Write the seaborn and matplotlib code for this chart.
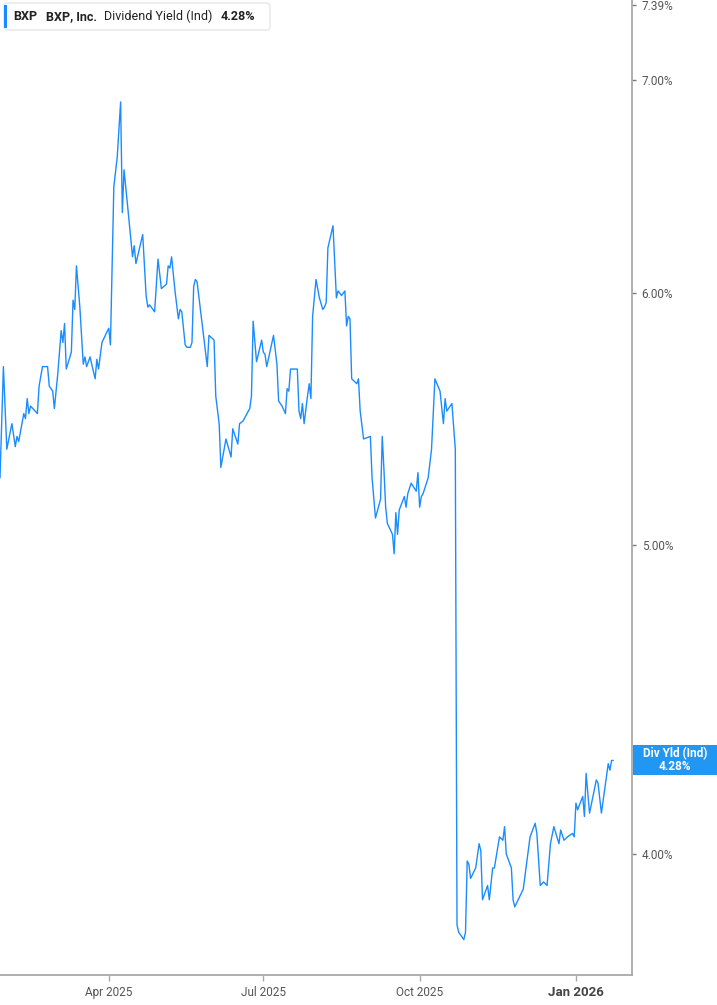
import numpy as np
import pandas as pd
import matplotlib
matplotlib.use('Agg')
import matplotlib.pyplot as plt
import matplotlib.dates as mdates
from matplotlib.patches import FancyBboxPatch, Rectangle
import seaborn as sns

sns.set_style('white')
plt.rcParams['font.family'] = ['Roboto', 'DejaVu Sans']

# BXP dividend yield (Ind), %
dates = [
    '2025-01-27', '2025-01-29', '2025-01-31', '2025-02-03', '2025-02-05', '2025-02-06', '2025-02-07',
    '2025-02-10', '2025-02-11', '2025-02-12', '2025-02-13', '2025-02-14', '2025-02-18', '2025-02-19',
    '2025-02-21', '2025-02-24', '2025-02-25', '2025-02-27', '2025-02-28', '2025-03-02', '2025-03-04',
    '2025-03-05', '2025-03-06', '2025-03-07', '2025-03-10', '2025-03-11', '2025-03-12', '2025-03-13',
    '2025-03-15', '2025-03-17', '2025-03-18', '2025-03-19', '2025-03-21', '2025-03-24', '2025-03-25',
    '2025-03-26', '2025-03-28', '2025-04-01', '2025-04-02', '2025-04-04', '2025-04-06', '2025-04-08',
    '2025-04-09', '2025-04-10', '2025-04-12', '2025-04-15', '2025-04-16', '2025-04-17', '2025-04-21',
    '2025-04-23', '2025-04-24', '2025-04-25', '2025-04-28', '2025-04-30', '2025-05-02', '2025-05-05',
    '2025-05-06', '2025-05-07', '2025-05-08', '2025-05-10', '2025-05-12', '2025-05-13', '2025-05-14',
    '2025-05-16', '2025-05-17', '2025-05-19', '2025-05-20', '2025-05-21', '2025-05-22', '2025-05-23',
    '2025-05-29', '2025-05-30', '2025-06-02', '2025-06-03', '2025-06-05', '2025-06-06', '2025-06-09',
    '2025-06-12', '2025-06-13', '2025-06-16', '2025-06-17', '2025-06-19', '2025-06-23', '2025-06-24',
    '2025-06-25', '2025-06-27', '2025-06-30', '2025-07-01', '2025-07-02', '2025-07-03', '2025-07-07',
    '2025-07-09', '2025-07-10', '2025-07-12', '2025-07-14', '2025-07-15', '2025-07-16', '2025-07-17',
    '2025-07-18', '2025-07-21', '2025-07-22', '2025-07-23', '2025-07-24', '2025-07-25', '2025-07-27',
    '2025-07-28', '2025-07-29', '2025-07-30', '2025-08-01', '2025-08-03', '2025-08-05', '2025-08-06',
    '2025-08-07', '2025-08-08', '2025-08-11', '2025-08-13', '2025-08-14', '2025-08-16', '2025-08-18',
    '2025-08-19', '2025-08-20', '2025-08-21', '2025-08-22', '2025-08-25', '2025-08-26', '2025-08-27',
    '2025-08-29', '2025-09-02', '2025-09-03', '2025-09-05', '2025-09-08', '2025-09-09', '2025-09-10',
    '2025-09-11', '2025-09-12', '2025-09-15', '2025-09-16', '2025-09-17', '2025-09-18', '2025-09-19',
    '2025-09-22', '2025-09-23', '2025-09-24', '2025-09-26', '2025-09-29', '2025-09-30', '2025-10-01',
    '2025-10-02', '2025-10-03', '2025-10-06', '2025-10-08', '2025-10-10', '2025-10-13', '2025-10-15',
    '2025-10-16', '2025-10-17', '2025-10-20', '2025-10-22', '2025-10-23', '2025-10-24', '2025-10-27',
    '2025-10-28', '2025-10-29', '2025-10-30', '2025-10-31', '2025-11-03', '2025-11-05', '2025-11-06',
    '2025-11-07', '2025-11-10', '2025-11-11', '2025-11-13', '2025-11-14', '2025-11-17', '2025-11-19',
    '2025-11-20', '2025-11-21', '2025-11-24', '2025-11-25', '2025-11-26', '2025-11-28', '2025-12-01',
    '2025-12-05', '2025-12-08', '2025-12-09', '2025-12-11', '2025-12-13', '2025-12-15', '2025-12-17',
    '2025-12-19', '2025-12-22', '2025-12-23', '2025-12-25', '2025-12-27', '2025-12-30', '2025-12-31',
    '2026-01-01', '2026-01-02', '2026-01-05', '2026-01-06', '2026-01-07', '2026-01-09', '2026-01-13',
    '2026-01-14', '2026-01-16', '2026-01-20', '2026-01-21', '2026-01-22', '2026-01-23',
]
div_yield = [
    5.25, 5.69, 5.36, 5.46, 5.37, 5.41, 5.39,
    5.50, 5.48, 5.56, 5.50, 5.53, 5.50, 5.61,
    5.69, 5.69, 5.61, 5.59, 5.52, 5.66, 5.84,
    5.79, 5.87, 5.68, 5.75, 5.97, 5.93, 6.12,
    5.94, 5.70, 5.73, 5.69, 5.73, 5.64, 5.72,
    5.68, 5.79, 5.85, 5.78, 6.48, 6.62, 6.89,
    6.36, 6.56, 6.40, 6.16, 6.21, 6.13, 6.26,
    5.99, 5.94, 5.95, 5.92, 6.15, 6.02, 6.04,
    6.12, 6.11, 6.16, 6.01, 5.89, 5.93, 5.92,
    5.78, 5.77, 5.77, 5.79, 6.03, 6.06, 6.05,
    5.69, 5.82, 5.80, 5.57, 5.46, 5.29, 5.40,
    5.33, 5.44, 5.38, 5.46, 5.47, 5.52, 5.57,
    5.88, 5.71, 5.80, 5.75, 5.74, 5.69, 5.82,
    5.70, 5.55, 5.53, 5.50, 5.60, 5.59, 5.68,
    5.68, 5.68, 5.51, 5.48, 5.54, 5.46, 5.57,
    5.62, 5.56, 5.90, 6.06, 5.98, 5.93, 5.94,
    5.96, 6.20, 6.30, 5.98, 6.01, 5.99, 6.01,
    5.86, 5.90, 5.89, 5.64, 5.62, 5.64, 5.51,
    5.40, 5.41, 5.25, 5.10, 5.17, 5.41, 5.28,
    5.14, 5.08, 5.04, 4.97, 5.12, 5.04, 5.13,
    5.18, 5.14, 5.19, 5.23, 5.20, 5.27, 5.14,
    5.18, 5.19, 5.25, 5.36, 5.64, 5.59, 5.46,
    5.56, 5.51, 5.54, 5.36, 3.80, 3.78, 3.76,
    3.78, 3.98, 3.97, 3.93, 3.96, 4.03, 4.01,
    3.87, 3.91, 3.87, 3.96, 3.96, 4.05, 4.04,
    4.08, 4.00, 3.96, 3.87, 3.85, 3.87, 3.90,
    4.05, 4.09, 4.06, 3.91, 3.92, 3.91, 4.03,
    4.08, 4.03, 4.07, 4.04, 4.05, 4.06, 4.05,
    4.15, 4.13, 4.17, 4.11, 4.24, 4.12, 4.22,
    4.21, 4.12, 4.27, 4.25, 4.28, 4.28,
]
y_ticks = [4.0, 5.0, 6.0, 7.0, 7.39]
x_ticks = ['2025-04-01', '2025-07-01', '2025-10-01', '2026-01-01']
x_tick_labels = ['Apr 2025', 'Jul 2025', 'Oct 2025', 'Jan 2026']
last_value = div_yield[-1]

df = pd.DataFrame({'date': pd.to_datetime(dates), 'yield': div_yield})

W, H = 717, 1005
fig = plt.figure(figsize=(W / 100, H / 100), dpi=100)
ax = fig.add_axes([0, 1 - 975 / H, 632 / W, 975 / H])

line_color = '#1a8cff'
sns.lineplot(data=df, x='date', y='yield', ax=ax, color=line_color, linewidth=1.0)

ax.set_yscale('log')
ax.set_ylim(3.665, 7.417)
ax.set_xlim(pd.Timestamp('2025-01-27'), pd.Timestamp('2026-02-03'))

ax.yaxis.set_label_position('right')
ax.yaxis.tick_right()
ax.yaxis.set_minor_locator(matplotlib.ticker.NullLocator())
ax.set_yticks(y_ticks)
ax.set_yticklabels([f'{v:.2f}%' for v in y_ticks])
ax.set_xticks(pd.to_datetime(x_ticks))
ax.set_xticklabels(x_tick_labels)
ax.set_xlabel('')
ax.set_ylabel('')

grey = '#a9a9a9'
for side in ['left', 'top']:
    ax.spines[side].set_visible(False)
for side in ['right', 'bottom']:
    ax.spines[side].set_visible(True)
    ax.spines[side].set_color(grey)
    ax.spines[side].set_linewidth(1.3)

ax.tick_params(axis='y', which='major', direction='out', length=3, width=1, color='#777777',
               labelsize=8.5, labelcolor='#555555', pad=4, right=True, left=False)
ax.tick_params(axis='x', which='major', direction='out', length=4, width=1, color=grey,
               labelsize=8.5, labelcolor='#555555', pad=4, bottom=True)
xlabels = ax.get_xticklabels()
xlabels[-1].set_fontweight('bold')
xlabels[-1].set_color('#444444')
xlabels[-1].set_fontsize(9.5)

# current value tag on the right axis
tag_h = 30 / H
y_fig = fig.transFigure.inverted().transform(ax.transData.transform((0, last_value)))[1]
fig.patches.append(Rectangle((633 / W, y_fig - tag_h / 2), (W - 633) / W, tag_h,
                             transform=fig.transFigure, facecolor='#2196f3', edgecolor='none'))
fig.text(675 / W, y_fig + 0.0065, 'Div Yld (Ind)', color='white', fontsize=8.5,
         fontweight='bold', ha='center', va='center')
fig.text(675 / W, y_fig - 0.0065, f'{last_value:.2f}%', color='white', fontsize=8.5,
         fontweight='bold', ha='center', va='center')

# legend box at top left
fig.patches.append(FancyBboxPatch((4 / W, 1 - 30 / H), 266 / W, 27 / H,
                                  boxstyle='round,pad=0,rounding_size=0.004',
                                  transform=fig.transFigure, facecolor='white',
                                  edgecolor='#e6e6e6', linewidth=1))
fig.patches.append(Rectangle((4 / W, 1 - 28 / H), 3 / W, 23 / H, transform=fig.transFigure,
                             facecolor=line_color, edgecolor='none'))
ty = 1 - 16.5 / H
fs = 9
fig.text(13 / W, ty, 'BXP', fontsize=fs, fontweight='bold', color='#222222', va='center')
fig.text(46 / W, ty, 'BXP, Inc.', fontsize=fs, fontweight='bold', color='#222222', va='center')
fig.text(104 / W, ty, 'Dividend Yield (Ind)', fontsize=fs, color='#222222', va='center')
fig.text(221 / W, ty, f'{last_value:.2f}%', fontsize=fs, fontweight='bold', color='#222222',
         va='center')

fig.savefig('out.png', dpi=100)
